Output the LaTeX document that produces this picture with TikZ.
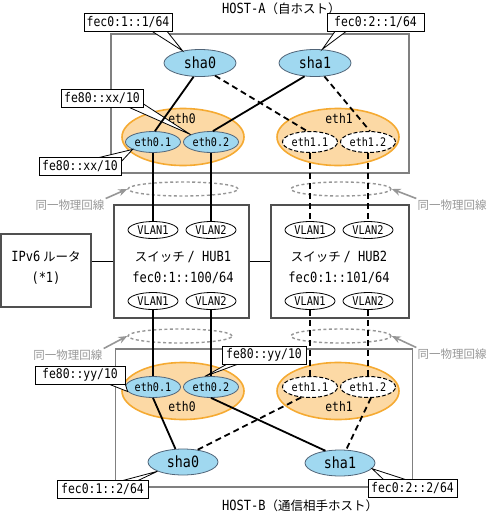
\documentclass[tikz,border=0pt]{standalone}
\usepackage{fontspec}
\setmainfont{Noto Sans CJK JP}
\newfontfamily\monof[FakeStretch=0.86]{DejaVu Sans Mono}
\usetikzlibrary{shapes.geometric,arrows.meta}
\definecolor{hostgray}{RGB}{128,128,128}
\definecolor{hubgray}{RGB}{80,80,80}
\definecolor{bluefill}{RGB}{160,216,240}
\definecolor{blueline}{RGB}{80,100,120}
\definecolor{orfill}{RGB}{252,217,165}
\definecolor{orline}{RGB}{245,170,50}
\definecolor{lgray}{RGB}{150,150,150}
\begin{document}
\begin{tikzpicture}[x=1pt,y=-1pt,
  hostbox/.style={draw=hostgray,line width=1.7pt,inner sep=0pt},
  hubbox/.style={draw=hubgray,line width=1.4pt,inner sep=0pt},
  sha/.style={ellipse,draw=blueline,fill=bluefill,line width=0.8pt,inner sep=0pt,minimum width=72pt,minimum height=27pt,font=\monof\fontsize{15.5}{17}\selectfont},
  vif/.style={ellipse,draw=blueline,fill=bluefill,line width=0.8pt,inner sep=0pt,minimum width=55pt,minimum height=21pt,font=\monof\fontsize{11.8}{13}\selectfont},
  vifd/.style={ellipse,draw=black,dash pattern=on 4pt off 2pt,fill=white,line width=1pt,inner sep=0pt,minimum width=55pt,minimum height=21pt,font=\monof\fontsize{11.8}{13}\selectfont},
  phys/.style={ellipse,draw=orline,fill=orfill,line width=1.6pt,inner sep=0pt,minimum width=122pt,minimum height=57pt},
  physlabel/.style={inner sep=0pt,font=\monof\fontsize{13.2}{15}\selectfont},
  vlan/.style={ellipse,draw=black,fill=white,line width=0.8pt,inner sep=0pt,minimum width=50pt,minimum height=17pt,font=\monof\fontsize{12}{13}\selectfont},
  sameline/.style={ellipse,draw=lgray,line width=1.4pt,dash pattern=on 3pt off 2.5pt,inner sep=0pt,minimum height=14pt},
  note/.style={text=lgray,inner sep=1pt,font=\fontsize{11.5}{13}\selectfont},
  notearrow/.style={draw=lgray,line width=1.6pt,-{Stealth[length=9pt,width=7pt]}},
  addr/.style={draw=black,fill=white,line width=0.8pt,inner sep=0pt,minimum height=18pt,font=\monof\fontsize{13.3}{15}\selectfont},
  wedge/.style={fill=white,draw=black,line width=0.8pt},
  link/.style={line width=1.8pt},
  dlink/.style={line width=1.8pt,dash pattern=on 6pt off 4pt},
  plain/.style={line width=1pt},
  hubtext/.style={inner sep=0pt,font=\fontsize{12.5}{14}\selectfont},
  title/.style={inner sep=0pt,font=\fontsize{12.5}{14}\selectfont}
]
\useasboundingbox (0,0) rectangle (488,515);

% host boxes and titles
\node[hostbox,minimum width=298pt,minimum height=139pt] (hosta) at (260,103.5) {};
\node[title,anchor=west] (ta) at (222,9) {{\monof\fontsize{14}{15}\selectfont HOST-A}（自ホスト）};
\node[hostbox,minimum width=297pt,minimum height=138pt] (hostb) at (264,418) {};
\node[title,anchor=west] (tb) at (222,506) {{\monof\fontsize{14}{15}\selectfont HOST-B}（通信相手ホスト）};

% hubs and router
\node[hubbox,minimum width=135pt,minimum height=113pt] (hub1) at (181.5,261.5) {};
\node[hubbox,minimum width=138pt,minimum height=113pt] (hub2) at (340,261.5) {};
\node[hubbox,minimum width=90pt,minimum height=73pt] (router) at (46,270.5) {};
\node[hubtext] (rt1) at (46,257) {{\monof\fontsize{14}{15}\selectfont IPv6} ルータ};
\node[hubtext] (rt2) at (46,278) {{\monof\fontsize{14}{15}\selectfont (*1)}};
\node[hubtext] (h1t1) at (183,257) {スイッチ {\monof\fontsize{14}{15}\selectfont / HUB1}};
\node[hubtext,font=\monof\fontsize{14}{15}\selectfont] (h1t2) at (183,278) {fec0:1::100/64};
\node[hubtext] (h2t1) at (339,257) {スイッチ {\monof\fontsize{14}{15}\selectfont / HUB2}};
\node[hubtext,font=\monof\fontsize{14}{15}\selectfont] (h2t2) at (339,278) {fec0:1::101/64};
\draw[plain] (hub1.west) -- (hub1.west -| router.east);
\draw[plain] (hub1.east) -- (hub2.west);

\node[vlan] (v11) at (153,230) {VLAN1};
\node[vlan] (v12) at (211,230) {VLAN2};
\node[vlan] (v13) at (153,301) {VLAN1};
\node[vlan] (v14) at (211,301) {VLAN2};
\node[vlan] (v21) at (310,230) {VLAN1};
\node[vlan] (v22) at (368,230) {VLAN2};
\node[vlan] (v23) at (310,301) {VLAN1};
\node[vlan] (v24) at (368,301) {VLAN2};

% same physical line markers
\node[sameline,minimum width=110pt] (g1) at (183,189) {};
\node[sameline,minimum width=100pt] (g2) at (341,189) {};
\node[sameline,minimum width=104pt] (g3) at (180,336) {};
\node[sameline,minimum width=100pt] (g4) at (341,336) {};
\node[note] (n1) at (70,205) {同一物理回線};
\node[note] (n2) at (452,205) {同一物理回線};
\node[note] (n3) at (68,355) {同一物理回線};
\node[note] (n4) at (452,354) {同一物理回線};
\draw[notearrow] (n1.north east) -- (g1.west);
\draw[notearrow] (n2.north west) -- (g2.east);
\draw[notearrow] (n3.north east) -- (g3.west);
\draw[notearrow] (n4.north west) -- (g4.east);

% HOST-A interfaces
\node[phys] (eth0a) at (183,137) {};
\node[phys] (eth1a) at (338,137) {};
\node[physlabel] (l0a) at (182,119) {eth0};
\node[physlabel] (l1a) at (339,119) {eth1};
\node[vif] (e01a) at (153,142) {eth0.1};
\node[vif] (e02a) at (211,142) {eth0.2};
\node[vifd] (e11a) at (310,142) {eth1.1};
\node[vifd] (e12a) at (368,142) {eth1.2};
\node[sha] (s0a) at (200,63) {sha0};
\node[sha] (s1a) at (315,63) {sha1};

% HOST-B interfaces
\node[phys] (eth0b) at (183,391) {};
\node[phys] (eth1b) at (338,391) {};
\node[physlabel] (l0b) at (182,407) {eth0};
\node[physlabel] (l1b) at (339,407) {eth1};
\node[vif] (e01b) at (153,387) {eth0.1};
\node[vif] (e02b) at (211,387) {eth0.2};
\node[vifd] (e11b) at (310,387) {eth1.1};
\node[vifd] (e12b) at (368,387) {eth1.2};
\node[sha,minimum width=70pt,minimum height=26pt] (s0b) at (183,462) {sha0};
\node[sha,minimum width=70pt,minimum height=26pt] (s1b) at (340,463) {sha1};

% callouts
\filldraw[wedge] (150,30) -- (s0a.145) -- (166,30);
\node[addr,minimum width=88pt] (c1) at (128,22) {fec0:1::1/64};
\filldraw[wedge] (336,30) -- (s1a.62) -- (348,30);
\node[addr,minimum width=97pt] (c2) at (375.5,22) {fec0:2::1/64};
\filldraw[wedge] (126,106) -- (e02a.160) -- (142,103);
\node[addr,minimum width=82pt] (c3) at (102,98) {fe80::xx/10};
\filldraw[wedge] (97,158) -- (e01a.200) -- (120,163);
\node[addr,minimum width=82pt] (c4) at (80,166) {fe80::xx/10};
\filldraw[wedge] (106,383) -- (e01b.190) -- (124,380);
\node[addr,minimum width=90pt] (c5) at (80,375) {fe80::yy/10};
\filldraw[wedge] (229,363) -- (e02b.120) -- (241,363);
\node[addr,minimum width=84pt] (c6) at (264,355) {fe80::yy/10};
\filldraw[wedge] (121,481) -- (s0b.200) -- (137,481);
\node[addr,minimum width=91pt] (c7) at (102.5,489) {fec0:1::2/64};
\filldraw[wedge] (384,480) -- (s1b.350) -- (407,480);
\node[addr,minimum width=89pt] (c8) at (412.5,488) {fec0:2::2/64};

% HOST-A links
\draw[link] (s0a.245) -- (e01a.80);
\draw[dlink] (s0a.320) -- (e11a.105);
\draw[link] (s1a.232) -- (e02a.80);
\draw[dlink] (s1a.305) -- (e12a.80);

% vertical links
\draw[link] (e01a.south) -- (v11.north);
\draw[link] (e02a.south) -- (v12.north);
\draw[dlink] (e11a.south) -- (v21.north);
\draw[dlink] (e12a.south) -- (v22.north);
\draw[link] (v13.south) -- (e01b.north);
\draw[link] (v14.south) -- (e02b.north);
\draw[dlink] (v23.south) -- (e11b.north);
\draw[dlink] (v24.south) -- (e12b.north);

% HOST-B links
\draw[link] (e01b.south) -- (s0b.120);
\draw[link] (e02b.south) -- (s1b.140);
\draw[dlink] (e11b.230) -- (s0b.40);
\draw[dlink] (e12b.285) -- (s1b.65);
\end{tikzpicture}
\end{document}
